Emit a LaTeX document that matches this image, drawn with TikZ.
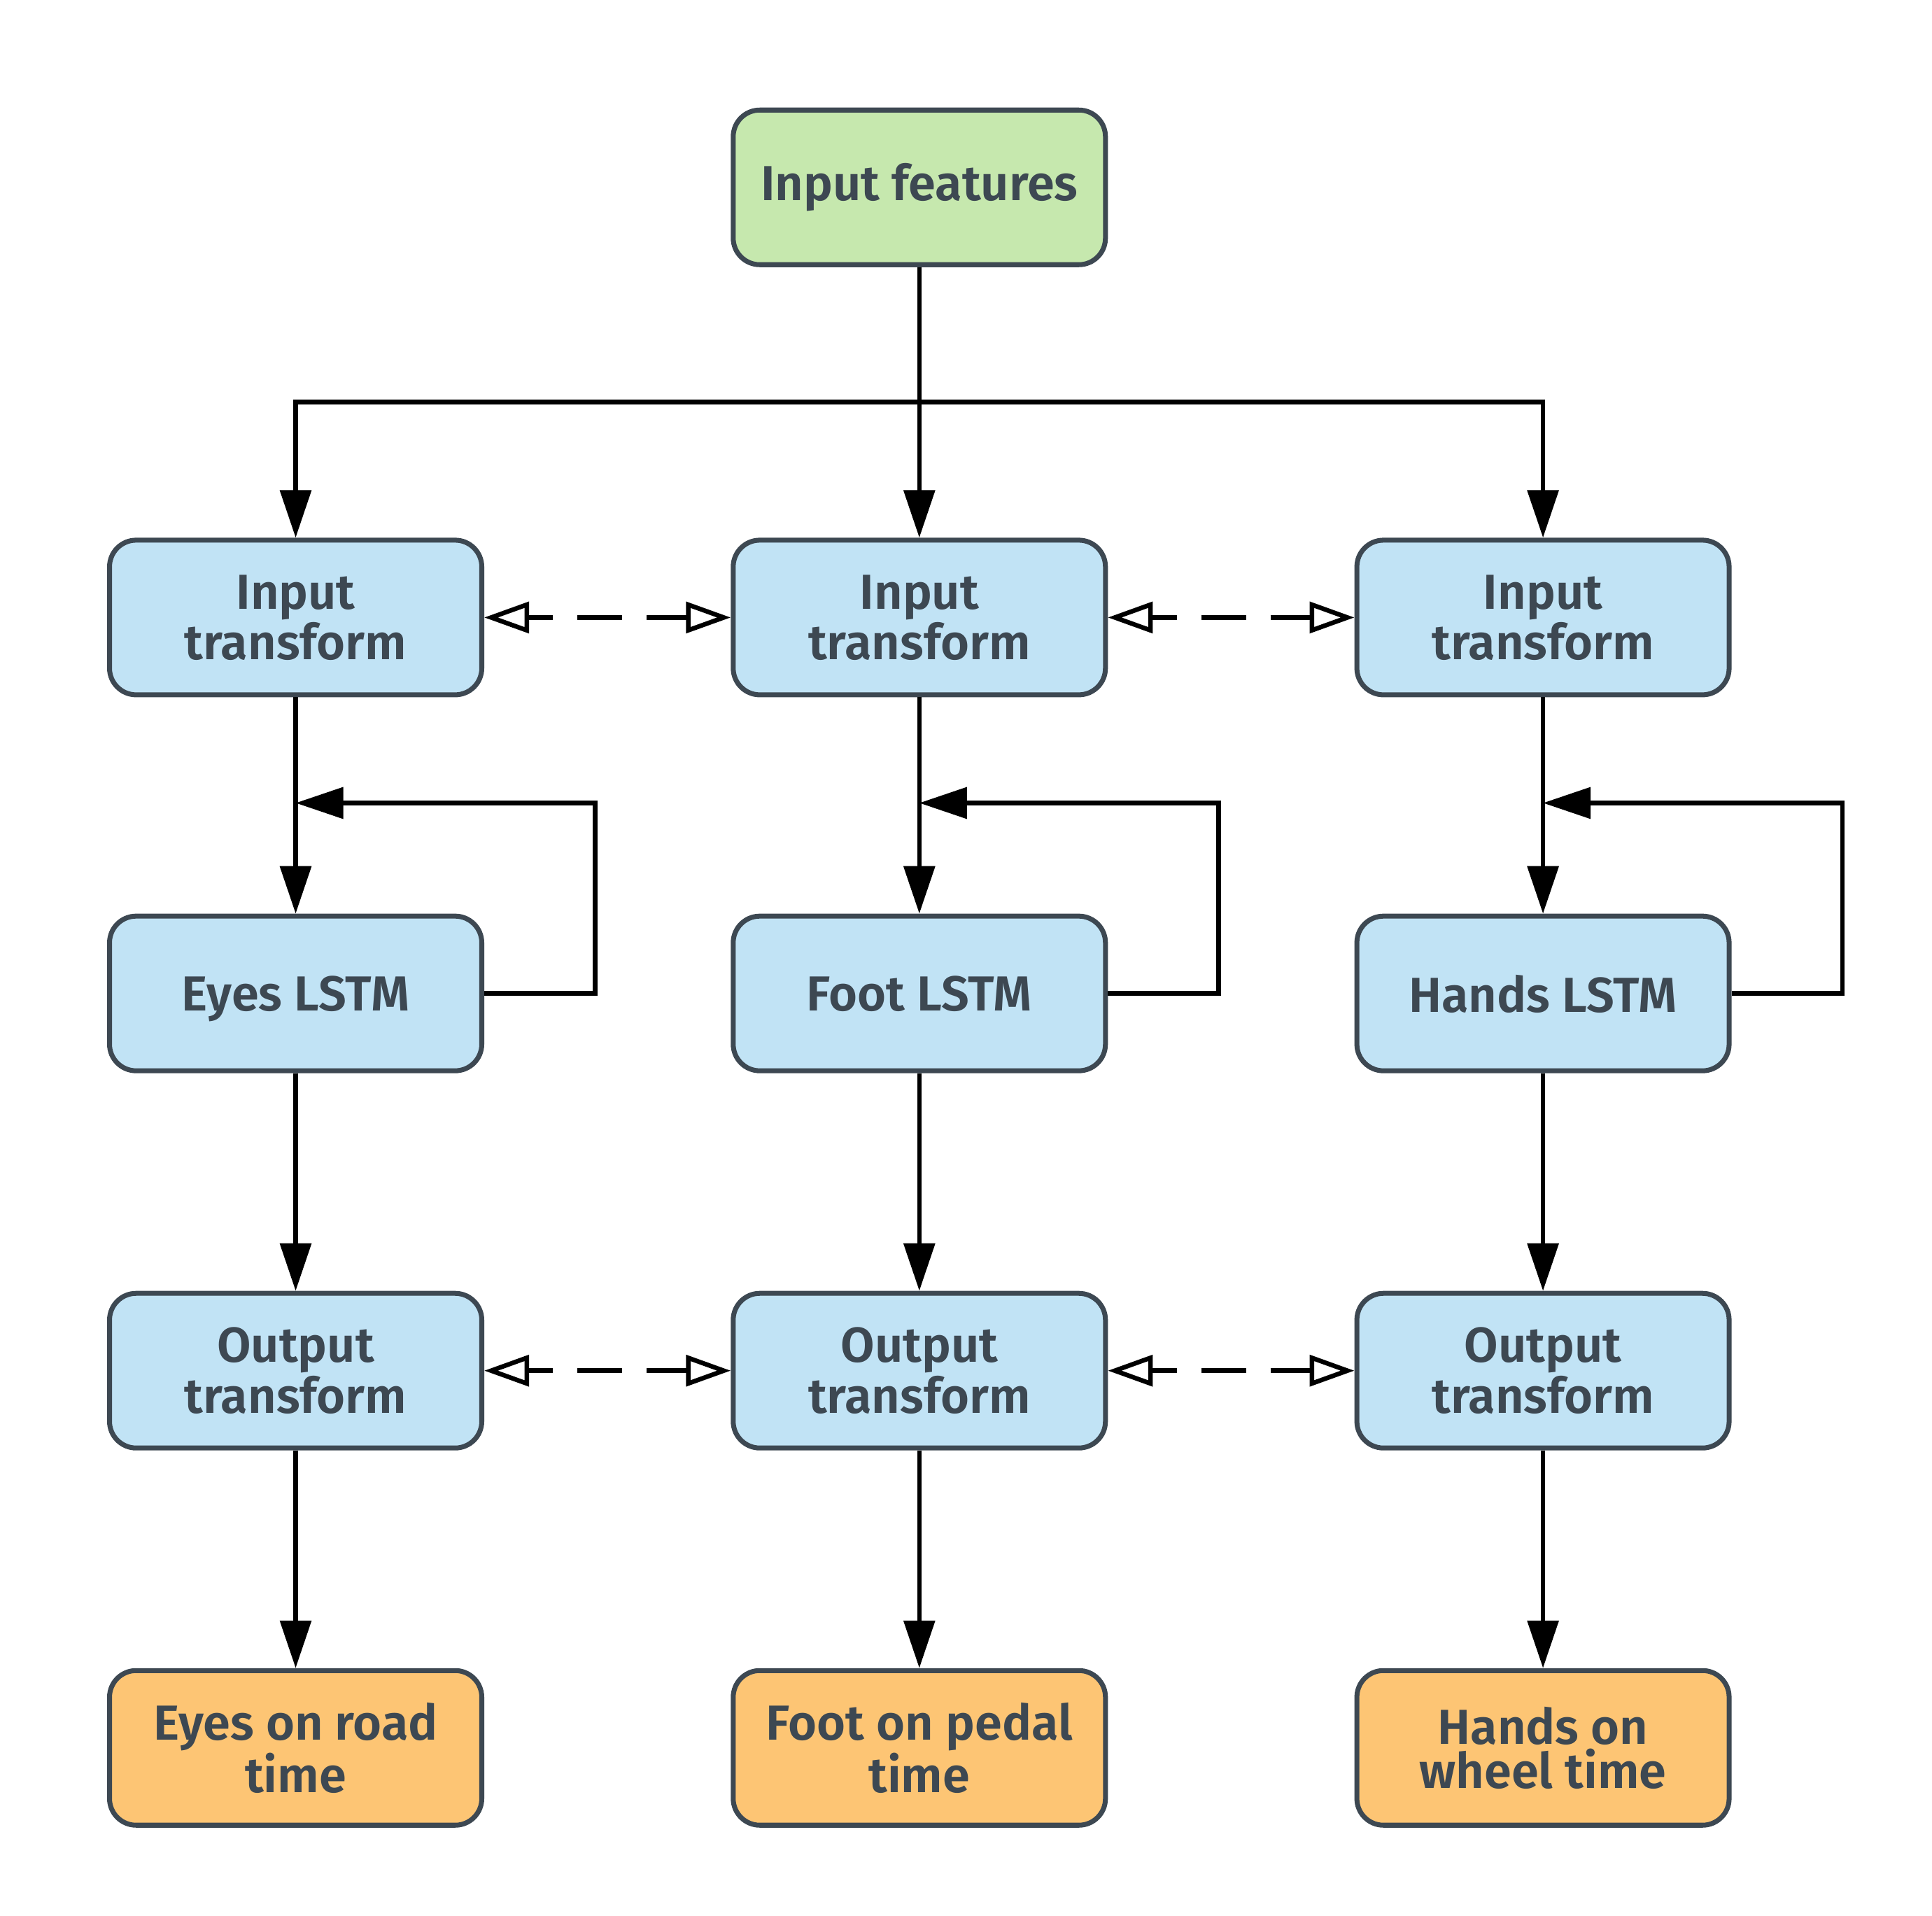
\documentclass[tikz,border=0pt]{standalone}
\usepackage{fontspec}
\setmainfont{Fira Sans}[BoldFont={* SemiBold}]
\usetikzlibrary{arrows.meta}
\definecolor{ink}{HTML}{3D4852}
\definecolor{greenfill}{HTML}{C6E8AE}
\definecolor{bluefill}{HTML}{C1E3F5}
\definecolor{orangefill}{HTML}{FDC574}
\tikzset{
  box/.style={draw=ink, line width=2pt, rounded corners=0.38cm, minimum width=5.32cm, minimum height=2.21cm,
    align=center, text=ink, font=\bfseries\fontsize{20}{18.1}\selectfont, inner sep=0pt},
  oneline/.style={text depth=0pt},
  gbox/.style={box, fill=greenfill},
  bbox/.style={box, fill=bluefill},
  obox/.style={box, fill=orangefill},
  arr/.style={line width=1.85pt, draw=black, -{Triangle[length=0.68cm,width=0.44cm]}},
  link/.style={line width=1.85pt, draw=black, dash pattern=on 0.64cm off 0.35cm, dash phase=0.28cm,
    {Triangle[open,length=0.64cm,width=0.44cm]}-{Triangle[open,length=0.64cm,width=0.44cm]}}
}
\begin{document}
\begin{tikzpicture}[x=0.01779cm, y=-0.01779cm]
\useasboundingbox (0,0) rectangle (1552,1539);
% nodes
\node[gbox] (inf) at (738.5,150.5) {Input features};
\node[bbox] (it1) at (237.5,496) {Input\\transform};
\node[bbox] (it2) at (738.5,496) {Input\\transform};
\node[bbox] (it3) at (1239.5,496) {Input\\transform};
\node[bbox, oneline] (l1) at (237.5,798) {Eyes LSTM};
\node[bbox, oneline] (l2) at (738.5,798) {Foot LSTM};
\node[bbox, oneline] (l3) at (1239.5,798) {Hands LSTM};
\node[bbox] (ot1) at (237.5,1101) {Output\\transform};
\node[bbox] (ot2) at (738.5,1101) {Output\\transform};
\node[bbox] (ot3) at (1239.5,1101) {Output\\transform};
\node[obox] (o1) at (237.5,1404) {Eyes on road\\time};
\node[obox] (o2) at (738.5,1404) {Foot on pedal\\time};
\node[obox] (o3) at (1239.5,1404) {Hands on\\wheel time};
% bus
\coordinate (bus) at (738.5,323);
\draw[arr] (inf.south) -- (it2.north);
\draw[arr] (bus) -| (it1.north);
\draw[arr] (bus) -| (it3.north);
% columns
\foreach \i in {1,2,3} {
  \draw[arr] (it\i.south) -- (l\i.north);
  \draw[arr] (l\i.south) -- (ot\i.north);
  \draw[arr] (ot\i.south) -- (o\i.north);
}
% feedback loops
\coordinate (fb1) at (237.5,645);
\coordinate (fb2) at (738.5,645);
\coordinate (fb3) at (1239.5,645);
\draw[arr] (l1.east) -- ++(89,0) |- (fb1);
\draw[arr] (l2.east) -- ++(89,0) |- (fb2);
\draw[arr] (l3.east) -- ++(89,0) |- (fb3);
% dashed links
\draw[link] (it1.east) -- (it2.west);
\draw[link] (it2.east) -- (it3.west);
\draw[link] (ot1.east) -- (ot2.west);
\draw[link] (ot2.east) -- (ot3.west);
\end{tikzpicture}
\end{document}
